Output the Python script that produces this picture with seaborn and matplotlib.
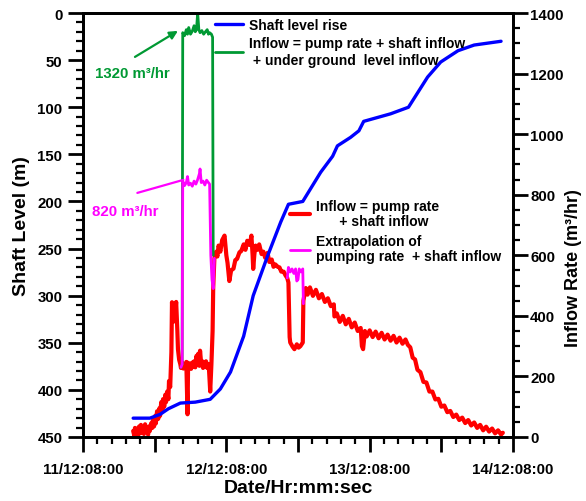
import matplotlib
matplotlib.use("Agg")
import matplotlib.pyplot as plt
import seaborn as sns
from matplotlib.ticker import MultipleLocator, FuncFormatter

# ---------------- data (x in hours after 11/12 08:00) ----------------
level_hours = [8.4, 11.2, 12.9, 14.3, 16.3, 18.8, 21.3, 23.0, 24.7, 26.9, 28.5, 30.9,
               33.1, 34.4, 36.8, 39.8, 41.8, 42.6, 44.8, 46.2, 47.0, 51.5, 54.5,
               56.1, 57.7, 59.9, 62.8, 65.5, 70.0]
level_m = [430, 430, 426, 420, 414, 413, 410, 399, 381, 343, 300, 258,
           222, 203, 200, 169, 152, 141, 132, 125, 115, 107, 100,
           84, 68, 52, 40, 34, 30]

inflow_hours = [
    8.4, 8.6, 8.7, 8.9, 9.1, 9.2, 9.4, 9.6, 9.7, 9.9, 10.1, 10.2, 10.4, 10.6,
    10.7, 10.9, 11.1, 11.2, 11.4, 11.6, 11.7, 11.9, 12.1, 12.2, 12.4, 12.6,
    12.8, 12.9, 13.1, 13.3, 13.4, 13.6, 13.8, 13.9, 14.1, 14.3, 14.4, 14.6,
    14.8, 14.9, 15.1, 15.3, 15.4, 15.6, 15.8, 15.9, 16.1,
    16.3, 16.4, 16.6, 16.8, 17.0, 17.1, 17.3, 17.5, 17.6, 17.8, 18.0, 18.1,
    18.3, 18.5, 18.6, 18.8, 19.0, 19.1, 19.3, 19.5, 19.6, 19.8, 20.0, 20.1,
    20.3, 20.5, 20.6, 20.8, 21.0, 21.1, 21.3, 21.5, 21.7, 21.8, 22.0,
    22.3, 22.5, 22.7, 23.0, 23.3, 23.7, 24.0, 24.2, 24.5, 24.8, 25.2, 25.5,
    25.8, 26.2, 26.5, 26.9, 27.2, 27.5, 27.9, 28.2, 28.4, 28.5, 28.7, 28.9,
    29.2, 29.5, 29.9, 30.2, 30.5, 30.9, 31.2, 31.6, 31.9, 32.2, 32.6, 32.9,
    33.2, 33.6, 33.9, 34.2, 34.4, 34.6, 34.7, 35.1, 35.4, 35.8, 36.1, 36.4,
    36.8, 36.9,
    37.3, 37.6, 38.0, 38.5, 39.0, 39.5, 40.0, 40.5, 41.0, 41.5, 42.0, 42.1,
    42.5, 43.0, 43.5, 44.0, 44.5, 45.0, 45.5, 46.0, 46.5, 46.7, 46.9, 47.2,
    47.5, 48.0, 48.5, 49.0, 49.5, 50.0, 50.5, 51.0, 51.5, 52.0, 52.5, 53.0,
    53.5, 54.0, 54.4, 54.8, 55.2, 55.6, 56.0, 56.5, 57.0, 57.5, 58.0, 58.5,
    59.0, 59.5, 60.0, 60.5, 61.0, 61.5, 62.0, 62.5, 63.0, 63.5, 64.0, 64.5,
    65.0, 65.5, 66.0, 66.5, 67.0, 67.5, 68.0, 68.5, 69.0, 69.5, 70.0, 70.3]
inflow_rate = [
    20, 4, 30, 8, 28, 5, 35, 12, 40, 15, 32, 10, 42, 18,
    30, 8, 35, 20, 45, 30, 55, 35, 70, 45, 85, 60,
    95, 70, 115, 90, 125, 100, 140, 115, 150, 125, 185, 165,
    280, 445, 380, 440, 395, 446, 350, 290, 255,
    240, 228, 246, 226, 240, 232, 248, 75, 245, 228, 242, 225,
    246, 232, 250, 230, 268, 238, 275, 235, 285, 240, 250, 228,
    245, 232, 250, 228, 240, 222, 150, 240, 350, 490, 590,
    612, 596, 632, 612, 650, 665, 600, 575, 515, 550, 556, 584,
    588, 610, 614, 636, 618, 648, 634, 665, 600, 555, 604, 632,
    618, 636, 604, 612, 592, 608, 578, 586, 562, 570, 562, 560,
    546, 546, 534, 525, 510, 330, 312, 298, 290, 306, 295, 300,
    312, 450,
    492, 470, 494, 466, 486, 458, 472, 446, 458, 432, 438, 398,
    408, 380, 400, 372, 390, 362, 378, 350, 360, 300, 290, 350,
    332, 352, 330, 348, 326, 344, 322, 338, 318, 334, 312, 328,
    308, 322, 304, 296, 262, 256, 222, 214, 182, 180, 150, 150,
    124, 126, 100, 104, 82, 86, 66, 74, 56, 64, 46, 56,
    38, 48, 30, 40, 22, 34, 18, 28, 12, 22, 8, 14]

extrap1_hours = [16.4, 16.6, 16.7, 17.0, 17.3, 17.5, 17.7, 18.0, 18.3, 18.6, 18.9, 19.2,
                 19.5, 19.6, 19.8, 20.1, 20.4, 20.7, 21.0, 21.2, 21.4, 21.6, 21.8, 22.0]
extrap1_rate = [230, 240, 845, 830, 840, 860, 832, 838, 828, 845, 835, 850,
                870, 885, 840, 845, 832, 848, 840, 835, 600, 520, 490, 590]
extrap2_hours = [34.2, 34.4, 34.7, 35.0, 35.3, 35.6, 35.8, 36.0, 36.2, 36.5, 36.8, 36.9]
extrap2_rate = [525, 560, 545, 555, 540, 555, 515, 520, 555, 545, 555, 440]

total_hours = [16.4, 16.6, 16.7, 17.0, 17.3, 17.5, 17.7, 18.0, 18.3, 18.6, 18.8, 19.0,
               19.2, 19.4, 19.6, 19.9, 20.2, 20.5, 20.8, 21.0, 21.2, 21.5, 21.7, 21.8]
total_rate = [230, 240, 1335, 1325, 1345, 1330, 1352, 1330, 1340, 1358, 1338, 1345,
              1400, 1345, 1335, 1342, 1330, 1338, 1345, 1330, 1335, 1330, 1320, 600]

date_tick_hours = [0, 24, 48, 72]
date_tick_labels = ["11/12:08:00", "12/12:08:00", "13/12:08:00", "14/12:08:00"]

legend_top = ["Shaft level rise", "Inflow = pump rate + shaft inflow\n + under ground  level inflow"]
legend_mid = ["Inflow = pump rate\n      + shaft inflow", "Extrapolation of\npumping rate  + shaft inflow"]

# ---------------- style ----------------
sns.set_theme(style="ticks")
plt.rcParams["font.family"] = ["Liberation Sans", "DejaVu Sans"]
plt.rcParams["font.weight"] = "bold"
plt.rcParams["axes.labelweight"] = "bold"
for k in ("text.color", "axes.labelcolor", "xtick.color", "ytick.color",
          "xtick.labelcolor", "ytick.labelcolor", "axes.edgecolor"):
    plt.rcParams[k] = "black"

BLUE = "#0000ff"
RED = "#ff0000"
PINK = "#ff00ff"
GREEN = "#009933"

fig = plt.figure(figsize=(5.86, 5.02), dpi=100)
fig.patch.set_facecolor("white")
W, H = 586, 502
ax = fig.add_axes([83 / W, 1 - 438 / H, 430 / W, 424 / H])
ax2 = ax.twinx()

# rate axis lines
sns.lineplot(x=inflow_hours, y=inflow_rate, ax=ax2, color=RED, linewidth=3.0,
             sort=False, estimator=None, legend=False)
red_line = ax2.lines[-1]
sns.lineplot(x=total_hours, y=total_rate, ax=ax2, color=GREEN, linewidth=2.0,
             sort=False, estimator=None, legend=False)
green_line = ax2.lines[-1]
sns.lineplot(x=extrap1_hours, y=extrap1_rate, ax=ax2, color=PINK, linewidth=2.0,
             sort=False, estimator=None, legend=False)
pink_line = ax2.lines[-1]
sns.lineplot(x=extrap2_hours, y=extrap2_rate, ax=ax2, color=PINK, linewidth=2.0,
             sort=False, estimator=None, legend=False)

# level axis line (drawn on top)
sns.lineplot(x=level_hours, y=level_m, ax=ax, color=BLUE, linewidth=2.4,
             sort=False, estimator=None, legend=False)
blue_line = ax.lines[-1]
ax.set_zorder(ax2.get_zorder() + 1)
ax.patch.set_visible(False)

# limits / ticks
ax.set_xlim(0, 72)
ax.set_ylim(450, 0)
ax2.set_ylim(0, 1400)

ax.xaxis.set_major_locator(MultipleLocator(12))
ax.xaxis.set_minor_locator(MultipleLocator(2.4))
lab = dict(zip(date_tick_hours, date_tick_labels))
ax.xaxis.set_major_formatter(FuncFormatter(
    lambda v, p: lab.get(int(round(v)), "") if abs(v - round(v)) < 1e-6 else ""))
ax.yaxis.set_major_locator(MultipleLocator(50))
ax.yaxis.set_minor_locator(MultipleLocator(10))
ax2.yaxis.set_major_locator(MultipleLocator(200))
ax2.yaxis.set_minor_locator(MultipleLocator(50))

for a in (ax, ax2):
    for s in a.spines.values():
        s.set_linewidth(2.0)
        s.set_color("black")

ax.tick_params(axis="both", which="major", direction="out", length=10.8, width=2.0,
               labelsize=10.8, colors="black", labelcolor="black")
ax.tick_params(axis="both", which="minor", direction="out", length=5.0, width=1.6, colors="black")
ax.tick_params(axis="y", which="major", pad=4)
ax.tick_params(axis="x", which="major", pad=7)
ax.tick_params(axis="x", which="both", top=False)
ax.tick_params(axis="y", which="both", right=False)
ax2.tick_params(axis="y", which="major", direction="out", length=10.8, width=2.0,
                labelsize=10.8, pad=1.5, colors="black", labelcolor="black")
ax2.tick_params(axis="y", which="minor", direction="out", length=5.0, width=1.6, colors="black")
for t in ax.get_xticklabels() + ax.get_yticklabels() + ax2.get_yticklabels():
    t.set_fontweight("bold")

ax.set_xlabel("Date/Hr:mm:sec", fontsize=14, fontweight="bold", color="black")
ax.set_ylabel("Shaft Level (m)", fontsize=14, fontweight="bold", color="black")
ax2.set_ylabel("Inflow Rate (m³/hr)", fontsize=13, fontweight="bold", color="black")
ax.xaxis.set_label_coords(0.5, (438 - 480) / 424)
ax.yaxis.set_label_coords((30 - 83) / 430, 0.5)
ax2.yaxis.set_label_coords((565 - 83) / 430, 0.40)
ax.grid(False)
ax2.grid(False)

# annotations
ax2.annotate("", xy=(15.9, 1341), xytext=(8.7, 1255),
             arrowprops=dict(arrowstyle="-|>", color=GREEN, lw=1.6, mutation_scale=12,
                             shrinkA=0, shrinkB=0))
ax2.text(8.3, 1202, "1320 m³/hr", color=GREEN, fontsize=10.8, fontweight="bold",
         ha="center", va="center")
ax2.annotate("", xy=(16.8, 849), xytext=(9.1, 806),
             arrowprops=dict(arrowstyle="-", color=PINK, lw=1.6, shrinkA=0, shrinkB=0))
ax2.text(7.0, 746, "820 m³/hr", color=PINK, fontsize=10.8, fontweight="bold",
         ha="center", va="center")

# legends
leg1 = fig.legend([blue_line, green_line], legend_top, loc="upper left",
                  bbox_to_anchor=(215 / W, 1 - 19 / H), frameon=False, borderpad=0,
                  borderaxespad=0, handlelength=2.0, handletextpad=0.43, labelspacing=0.3,
                  prop={"weight": "bold", "size": 10})
leg2 = fig.legend([red_line, pink_line], legend_mid, loc="upper left",
                  bbox_to_anchor=(290 / W, 1 - 200 / H), frameon=False, borderpad=0,
                  borderaxespad=0, handlelength=1.45, handletextpad=0.43, labelspacing=0.45,
                  prop={"weight": "bold", "size": 10})
for t in leg1.get_texts():
    t.set_color("black")
    t.set_linespacing(1.25)
for t in leg2.get_texts():
    t.set_color("black")
    t.set_linespacing(1.1)

fig.savefig("out.png", dpi=100, facecolor="white")
